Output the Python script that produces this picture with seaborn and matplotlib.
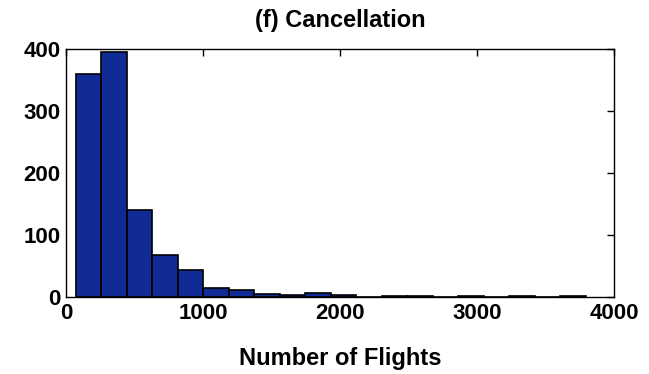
import matplotlib
matplotlib.use("Agg")
import matplotlib.pyplot as plt
import seaborn as sns
import numpy as np
import pandas as pd

# Histogram data (20 bins)
bin_start = 73.0
bin_width = 186.0
counts = [359, 395, 140, 67, 44, 15, 12, 5, 3, 6, 3, 0, 2, 2, 0, 2, 0, 2, 0, 2]
x_ticks = [0, 1000, 2000, 3000, 4000]
y_ticks = [0, 100, 200, 300, 400]
title = "(f) Cancellation"
xlabel = "Number of Flights"

edges = [float(bin_start + bin_width * k) for k in range(len(counts) + 1)]
centers = [(edges[i] + edges[i + 1]) / 2 for i in range(len(counts))]
df = pd.DataFrame({"flights": centers, "count": counts})

sns.set_style("white")
plt.rcParams["font.family"] = ["Liberation Sans", "DejaVu Sans"]
plt.rcParams["font.weight"] = "bold"
plt.rcParams["text.color"] = "black"
plt.rcParams["axes.labelcolor"] = "black"

fig = plt.figure(figsize=(6.49, 3.74), dpi=100)
ax = fig.add_axes([66 / 649, 1 - 297 / 374, (614 - 66) / 649, (297 - 49) / 374])

sns.histplot(data=df, x="flights", weights="count", bins=edges, ax=ax,
             color="#102a96", edgecolor="black", linewidth=1.2, alpha=1.0)

ax.set_xlim(0, 4000)
ax.set_ylim(0, 400)
ax.set_xticks(x_ticks)
ax.set_yticks(y_ticks)
ax.tick_params(direction="in", length=5, width=1, top=True, right=True,
               labelsize=16, colors="black", pad=4)
for lab in ax.get_xticklabels() + ax.get_yticklabels():
    lab.set_fontweight("bold")
for s in ax.spines.values():
    s.set_color("black")
    s.set_linewidth(1)
ax.set_title(title, fontsize=17, fontweight="bold", pad=16, color="black")
ax.set_xlabel(xlabel, fontsize=17, fontweight="bold", labelpad=17, color="black")
ax.set_ylabel("")

fig.savefig("out.png", dpi=100)
